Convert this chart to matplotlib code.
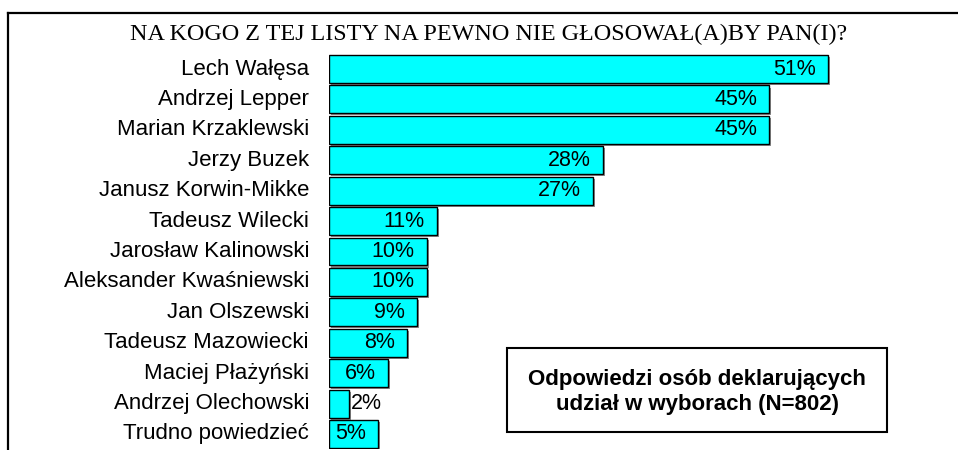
import matplotlib
matplotlib.use("Agg")
import matplotlib.pyplot as plt
from matplotlib.lines import Line2D
from matplotlib.patches import Rectangle
import matplotlib.patheffects as pe

names = ["Lech Wałęsa", "Andrzej Lepper", "Marian Krzaklewski", "Jerzy Buzek",
         "Janusz Korwin-Mikke", "Tadeusz Wilecki", "Jarosław Kalinowski",
         "Aleksander Kwaśniewski", "Jan Olszewski", "Tadeusz Mazowiecki",
         "Maciej Płażyński", "Andrzej Olechowski", "Trudno powiedzieć"]
values = [51, 45, 45, 28, 27, 11, 10, 10, 9, 8, 6, 2, 5]
labels = [f"{v}%" for v in values]
title = "NA KOGO Z TEJ LISTY NA PEWNO NIE GŁOSOWAŁ(A)BY PAN(I)?"
note = "Odpowiedzi osób deklarujących\nudział w wyborach (N=802)"

W, H = 958, 450
fig = plt.figure(figsize=(W / 100, H / 100), dpi=100)
fig.patch.set_facecolor("white")

# axes geometry in pixels
left_px, right_px = 329, 950
top_px, bot_px = 53.8, 449.2
ax = fig.add_axes([left_px / W, (H - bot_px) / H, (right_px - left_px) / W, (bot_px - top_px) / H])
px_per_unit = 9.78
ax.set_xlim(0, (right_px - left_px) / px_per_unit)
ax.set_ylim(len(values) - 0.5, -0.5)
ax.axis("off")

y = list(range(len(values)))
bars = ax.barh(y, values, height=0.92, color="#00FFFF", edgecolor="black", linewidth=1.0)
for b in bars:
    b.set_path_effects([pe.SimplePatchShadow(offset=(1.5, -1.5), shadow_rgbFace="0.55", alpha=1.0), pe.Normal()])

sans = ["Liberation Sans", "DejaVu Sans"]
for yi, (n, v, lab) in enumerate(zip(names, values, labels)):
    ax.annotate(n, (0, yi), xytext=(-20, 0), textcoords="offset pixels",
                ha="right", va="center", fontsize=16, family=sans)
    if v >= 4:
        ax.annotate(lab, (v, yi), xytext=(-12, 0), textcoords="offset pixels",
                    ha="right", va="center", fontsize=15.5, family=sans)
    else:
        ax.annotate(lab, (v, yi), xytext=(2, 0), textcoords="offset pixels",
                    ha="left", va="center", fontsize=15.5, family=sans)

fig.text(489 / W, 1 - 34 / H, title, ha="center", va="center", fontsize=17.4,
         family=["Liberation Serif", "DejaVu Serif"])

# note box
bx0, bx1, by0, by1 = 507, 887, 348, 432
fig.patches.append(Rectangle((bx0 / W, 1 - by1 / H), (bx1 - bx0) / W, (by1 - by0) / H,
                             transform=fig.transFigure, facecolor="white", edgecolor="black",
                             linewidth=1.5, zorder=5))
fig.text((bx0 + bx1) / 2 / W, 1 - 392 / H, note, ha="center", va="center",
         fontsize=16, fontweight="bold", family=sans, linespacing=1.3, zorder=6)

# outer border (top and left)
fig.add_artist(Line2D([8 / W, 8 / W], [0, 1 - 13 / H], transform=fig.transFigure, color="black", linewidth=1.6))
fig.add_artist(Line2D([8 / W, 1], [1 - 13 / H, 1 - 13 / H], transform=fig.transFigure, color="black", linewidth=1.6))

fig.savefig("out.png", dpi=100)
